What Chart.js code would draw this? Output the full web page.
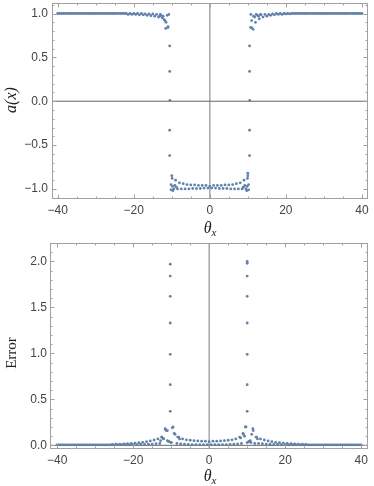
<!DOCTYPE html>
<html>
<head>
<meta charset="utf-8">
<script src="https://cdn.jsdelivr.net/npm/chart.js@4.4.1/dist/chart.umd.min.js"></script>
<style>
  body { margin: 0; background: #fff; }
  #wrap { position: relative; width: 374px; height: 486px; }
  canvas { position: absolute; left: 0; }
</style>
</head>
<body>
<div id="wrap">
  <canvas id="grafA" width="374" height="240" style="top:0"></canvas>
  <canvas id="grafErr" width="374" height="246" style="top:240px"></canvas>
</div>
<script>
// malla de theta_x (paso 0.5, de -40 a 40)
const gridTheta = [
  -40,-39.5,-39,-38.5,-38,-37.5,-37,-36.5,-36,-35.5,-35,-34.5,-34,-33.5,-33,-32.5,-32,-31.5,-31,-30.5,
  -30,-29.5,-29,-28.5,-28,-27.5,-27,-26.5,-26,-25.5,-25,-24.5,-24,-23.5,-23,-22.5,-22,-21.5,-21,-20.5,
  -20,-19.5,-19,-18.5,-18,-17.5,-17,-16.5,-16,-15.5,-15,-14.5,-14,-13.5,-13,-12.5,-12,-11.5,-11,-10.5,
  -10,-9.5,-9,-8.5,-8,-7.5,-7,-6.5,-6,-5.5,-5,-4.5,-4,-3.5,-3,-2.5,-2,-1.5,-1,-0.5,
  0,0.5,1,1.5,2,2.5,3,3.5,4,4.5,5,5.5,6,6.5,7,7.5,8,8.5,9,9.5,
  10,10.5,11,11.5,12,12.5,13,13.5,14,14.5,15,15.5,16,16.5,17,17.5,18,18.5,19,19.5,
  20,20.5,21,21.5,22,22.5,23,23.5,24,24.5,25,25.5,26,26.5,27,27.5,28,28.5,29,29.5,
  30,30.5,31,31.5,32,32.5,33,33.5,34,34.5,35,35.5,36,36.5,37,37.5,38,38.5,39,39.5,
  40
];

// a(x) sobre la malla
const aGrid = [
  1,1,1,1,1,1,1,1,1,1,1,1,1,1,1,1,1,1,1,1,
  1,1,1,1,1,1,1,1,1,1,1,1,1,1,1,1,1,
  0.99,1,0.99,1,0.99,1,0.985,1,0.985,0.995,0.98,0.995,
  0.975,0.995,0.97,0.99,0.96,0.99,0.95,0.93,0.9,0.84,
  0.01,
  -0.85,-1,-0.9,-1,-0.93,-1,-0.94,-1,-0.95,-1,-0.955,-0.995,-0.955,-0.995,-0.96,-0.995,-0.96,-0.99,-0.96,-0.99,
  -0.97,
  -0.99,-0.96,-0.99,-0.96,-0.995,-0.96,-0.995,-0.955,-0.995,-0.955,-1,-0.95,-1,-0.94,-1,-0.93,-1,-0.9,-1,-0.85,
  0.01,
  0.84,0.97,0.9,0.98,0.94,0.985,0.96,0.99,0.97,0.99,0.98,0.995,0.985,1,0.99,1,0.99,1,0.995,1,0.995,
  1,1,1,1,1,1,1,1,1,1,1,1,1,1,1,1,1,1,1,1,1,1,1,1,1,1,1,1,1,1,1,1,1,1,1,1,1,1
];

// puntos sueltos de a(x): columnas de la pared y racimos
const aExtraTheta = [
  -10.55,-10.55,-10.55,-10.55,
  -11.6,-11.2,-11.8,-12.3,-12.8,-13.2,-10.8,-11.0,
  -10.2,-10.2,-9.8,-9.7,-9.2,-8.8,-9.9,
  10.45,10.45,10.45,10.45,
  10.0,10.2,10.2,9.8,9.7,9.2,8.8,9.9,
  10.7,11.4,11.0,10.8,11.8,12.2,12.8,13.3
];
const aExtraVals = [
  0.63,0.34,-0.33,-0.62,
  0.83,0.98,0.92,0.97,0.98,0.97,0.99,0.85,
  -0.95,-1.01,-0.97,-1.02,-0.96,-0.98,-0.88,
  0.63,0.34,-0.33,-0.62,
  -0.82,-0.95,-1.01,-0.97,-1.02,-0.96,-0.98,-0.88,
  0.84,0.82,0.92,0.99,0.96,0.99,0.97,0.99
];

// Error sobre la malla
const errGrid = [
  0.005,0.005,0.005,0.005,0.005,0.005,0.005,0.005,0.005,0.005,0.005,0.005,0.005,0.005,0.005,
  0.005,0.005,0.005,0.005,0.005,0.005,0.005,0.005,0.005,0.005,0.005,0.005,0.005,0.005,
  0.01,0.005,0.012,0.005,0.014,0.005,0.016,0.006,0.018,0.006,0.02,0.007,0.024,0.008,0.028,0.009,
  0.033,0.01,0.04,0.012,0.048,0.014,0.058,0.017,0.07,0.02,
  0.09,0.07,0.17,0.16,0.04,
  0.03,0.2,0.12,0.02,0.09,0.015,0.07,0.012,0.06,0.01,0.055,0.008,0.05,0.008,0.048,0.008,0.045,0.008,0.045,0.008,
  0.04,
  0.008,0.045,0.008,0.045,0.008,0.048,0.008,0.05,0.008,0.055,0.01,0.06,0.012,0.07,0.015,0.09,0.02,0.12,0.2,0.03,
  0.04,
  0.03,0.18,0.02,0.09,0.02,0.07,0.017,0.058,0.014,0.048,0.012,0.04,0.01,0.033,0.009,0.028,0.008,0.024,0.007,0.02,
  0.006,0.018,0.006,0.016,0.005,0.014,0.005,0.012,0.005,0.01,
  0.005,0.005,0.005,0.005,0.005,0.005,0.005,0.005,0.005,0.005,0.005,0.005,0.005,0.005,0.005,
  0.005,0.005,0.005,0.005,0.005,0.005,0.005,0.005,0.005,0.005,0.005,0.005,0.005,0.005
];

const errExtraTheta = [
  -10.25,-10.25,-10.25,-10.25,-10.25,-10.25,-10.25,
  -11.6,-11.3,-9.7,-12.5,-12.1,-9.2,-8.3,-7.8,-10.7,-10.0,-11.0,-12.8,
  10.0,10.0,10.0,10.0,10.0,10.0,10.0,10.0,
  9.7,11.6,11.2,8.9,9.3,12.3,12.7,10.4,10.8,8.3
];
const errExtraVals = [
  1.97,1.84,1.62,1.33,0.99,0.66,0.37,
  0.18,0.16,0.19,0.09,0.075,0.13,0.09,0.07,0.04,0.03,0.05,0.05,
  2.0,1.98,1.84,1.62,1.33,0.99,0.66,0.37,
  0.2,0.16,0.12,0.13,0.1,0.09,0.07,0.04,0.05,0.08
];

// marcas de los ejes
const xTicks = [-40, -20, 0, 20, 40];
const xTickLabels = ['\u221240', '\u221220', '0', '20', '40'];
const aTicks = [-1, -0.5, 0, 0.5, 1];
const aTickLabels = ['\u22121.0', '\u22120.5', '0.0', '0.5', '1.0'];
const errTicks = [0, 0.5, 1, 1.5, 2];
const errTickLabels = ['0.0', '0.5', '1.0', '1.5', '2.0'];

const AZUL = 'rgb(94,129,181)';
const fuenteTicks = { family: 'Liberation Sans', size: 12 };

function puntos(xs, ys) {
  return xs.map((x, i) => ({ x: x, y: ys[i] }));
}

// marco con marcas hacia dentro, ejes en el origen y títulos
const marco = {
  id: 'marco',
  beforeDatasetsDraw(chart, args, opts) {
    const { ctx, chartArea: a, scales: { x, y } } = chart;
    ctx.save();
    const x0 = x.getPixelForValue(0);
    ctx.strokeStyle = '#a8a8a8';
    ctx.lineWidth = 1.5;
    ctx.beginPath(); ctx.moveTo(x0, a.top); ctx.lineTo(x0, a.bottom); ctx.stroke();
    const y0 = y.getPixelForValue(0);
    ctx.strokeStyle = '#666';
    ctx.lineWidth = 1;
    ctx.beginPath(); ctx.moveTo(a.left, y0); ctx.lineTo(a.right, y0); ctx.stroke();
    ctx.restore();
  },
  afterDraw(chart, args, opts) {
    const { ctx, chartArea: a, scales: { x, y } } = chart;
    ctx.save();
    ctx.strokeStyle = '#a0a0a0';
    ctx.lineWidth = 1;
    ctx.strokeRect(a.left + 0.5, a.top + 0.5, a.right - a.left - 1, a.bottom - a.top - 1);

    const marcaX = (v, len) => {
      const px = Math.round(x.getPixelForValue(v)) + 0.5;
      if (px < a.left || px > a.right) return;
      ctx.beginPath();
      ctx.moveTo(px, a.bottom); ctx.lineTo(px, a.bottom - len);
      ctx.moveTo(px, a.top); ctx.lineTo(px, a.top + len);
      ctx.stroke();
    };
    const marcaY = (v, len) => {
      const py = Math.round(y.getPixelForValue(v)) + 0.5;
      if (py < a.top || py > a.bottom) return;
      ctx.beginPath();
      ctx.moveTo(a.left, py); ctx.lineTo(a.left + len, py);
      ctx.moveTo(a.right, py); ctx.lineTo(a.right - len, py);
      ctx.stroke();
    };
    for (let v = -45; v <= 45; v += 5) marcaX(v, v % 20 === 0 ? 4.5 : 2.5);
    for (let k = opts.yMinK; k <= opts.yMaxK; k++) {
      marcaY(k / 10, k % 5 === 0 ? 4.5 : 2.5);
    }

    // título del eje y
    ctx.fillStyle = '#222';
    ctx.save();
    ctx.translate(opts.yTitleX, opts.yTitleY);
    ctx.rotate(-Math.PI / 2);
    ctx.font = opts.yTitleFont;
    ctx.textAlign = 'center';
    ctx.textBaseline = 'middle';
    ctx.fillText(opts.yTitle, 0, 0);
    ctx.restore();

    // título del eje x: theta con subíndice x
    ctx.font = 'italic 16px "Liberation Serif"';
    const w1 = ctx.measureText('\u03b8').width;
    ctx.font = 'italic 11px "Liberation Serif"';
    const w2 = ctx.measureText('x').width;
    const x1 = opts.xTitleX - (w1 + w2) / 2;
    ctx.textAlign = 'left';
    ctx.textBaseline = 'alphabetic';
    ctx.font = 'italic 16px "Liberation Serif"';
    ctx.fillText('\u03b8', x1, opts.xTitleY);
    ctx.font = 'italic 11px "Liberation Serif"';
    ctx.fillText('x', x1 + w1, opts.xTitleY + 3);
    ctx.restore();
  }
};

function crearGrafica(id, cfg) {
  return new Chart(document.getElementById(id), {
    type: 'scatter',
    data: {
      datasets: [{
        data: cfg.puntos,
        backgroundColor: AZUL,
        borderWidth: 0,
        pointRadius: 1.4,
        pointHoverRadius: 1.4
      }]
    },
    options: {
      responsive: false,
      animation: false,
      events: [],
      layout: { padding: { left: 0, right: 6, top: cfg.top, bottom: 0 } },
      plugins: {
        legend: { display: false },
        tooltip: { enabled: false },
        marco: cfg.marco
      },
      scales: {
        x: {
          type: 'linear',
          min: cfg.xMin, max: cfg.xMax,
          grid: { display: false, drawTicks: false },
          border: { display: false },
          ticks: {
            font: fuenteTicks, color: '#444', padding: 4, maxRotation: 0,
            callback: (v, i) => xTickLabels[i]
          },
          afterBuildTicks: s => { s.ticks = xTicks.map(v => ({ value: v })); },
          afterFit: s => {
            s.height = cfg.xAlto;
            s.paddingLeft = 0; s.paddingRight = 0;
          }
        },
        y: {
          type: 'linear',
          min: cfg.yMin, max: cfg.yMax,
          grid: { display: false, drawTicks: false },
          border: { display: false },
          ticks: {
            font: fuenteTicks, color: '#444', padding: cfg.yPad,
            callback: (v, i) => cfg.yLabels[i]
          },
          afterBuildTicks: s => { s.ticks = cfg.yTicks.map(v => ({ value: v })); },
          afterFit: s => {
            s.width = cfg.yAncho;
            s.paddingTop = 0; s.paddingBottom = 0;
          }
        }
      }
    },
    plugins: [marco]
  });
}

crearGrafica('grafA', {
  puntos: puntos(gridTheta, aGrid).concat(puntos(aExtraTheta, aExtraVals)),
  top: 3, xMin: -41.5, xMax: 41.6, yMin: -1.115, yMax: 1.12,
  xAlto: 41, yAncho: 52, yPad: 4,
  yTicks: aTicks, yLabels: aTickLabels,
  marco: {
    yMinK: -11, yMaxK: 11,
    yTitle: 'a(x)', yTitleFont: 'italic 16px "Liberation Serif"',
    yTitleX: 12, yTitleY: 100,
    xTitleX: 210, xTitleY: 233
  }
});

crearGrafica('grafErr', {
  puntos: puntos(gridTheta, errGrid).concat(puntos(errExtraTheta, errExtraVals)),
  top: 3, xMin: -41.9, xMax: 41.8, yMin: -0.04, yMax: 2.2,
  xAlto: 37, yAncho: 50, yPad: 3,
  yTicks: errTicks, yLabels: errTickLabels,
  marco: {
    yMinK: 0, yMaxK: 22,
    yTitle: 'Error', yTitleFont: '15px "Liberation Serif"',
    yTitleX: 12, yTitleY: 113,
    xTitleX: 210, xTitleY: 241
  }
});
</script>
</body>
</html>
